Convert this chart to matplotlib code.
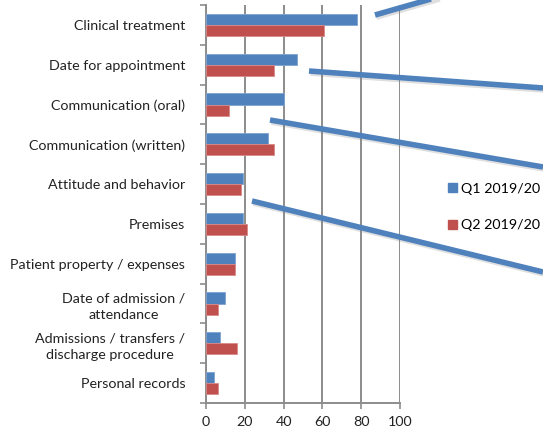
import matplotlib.pyplot as plt
import matplotlib.patheffects as pe
from matplotlib.lines import Line2D
from matplotlib.patches import Patch
import numpy as np

# Datos del gráfico
categorias = [
    "Clinical treatment",
    "Date for appointment",
    "Communication (oral)",
    "Communication (written)",
    "Attitude and behavior",
    "Premises",
    "Patient property / expenses",
    "Date of admission /\nattendance",
    "Admissions / transfers /\ndischarge procedure",
    "Personal records",
]
q1 = [78, 47, 40, 32, 19, 19, 15, 10, 7, 4]
q2 = [61, 35, 12, 35, 18, 21, 15, 6, 16, 6]
series = ["Q1 2019/20", "Q2 2019/20"]

azul = "#4F81BD"
rojo = "#C0504D"
gris = "#8C8C8C"
fs = 10.3

plt.rcParams['font.family'] = ['Lato', 'DejaVu Sans']

W, H = 543, 433
fig = plt.figure(figsize=(W / 100, H / 100), dpi=100)
ax = fig.add_axes([206 / W, 1 - 403 / H, 194 / W, 398 / H])

n = len(categorias)
y = np.arange(n)
alto = 0.28
ax.barh(y - alto / 2, q1, height=alto, color=azul, edgecolor="#7FA3D3", linewidth=0.6, zorder=3)
ax.barh(y + alto / 2, q2, height=alto, color=rojo, edgecolor="#D98A88", linewidth=0.6, zorder=3)

ax.set_ylim(n - 0.5, -0.5)
ax.set_xlim(0, 100)
ax.set_xticks(range(0, 101, 20))
ax.set_yticks(np.arange(-0.5, n, 1.0), minor=False)
ax.set_yticklabels([])
ax.set_yticks(y, minor=True)
ax.set_yticklabels(categorias, minor=True, fontsize=fs, color="#222222")
for lab in ax.get_yticklabels(minor=True):
    lab.set_multialignment("center")
    lab.set_linespacing(1.45)
ax.tick_params(axis="y", which="minor", length=0, pad=15)
ax.tick_params(axis="y", which="major", length=4, width=1.2, color=gris, direction="out")
ax.tick_params(axis="x", length=4, width=1.2, color=gris, labelsize=fs, labelcolor="#222222", pad=5)

ax.grid(axis="x", color=gris, linewidth=1.4, zorder=0)
for s in ["top", "right"]:
    ax.spines[s].set_visible(False)
for s in ["left", "bottom"]:
    ax.spines[s].set_color(gris)
    ax.spines[s].set_linewidth(1.4)

# Líneas decorativas (flechas de llamada)
trazos = [
    ((375, 15), (445, -5)),
    ((309, 71), (543, 88)),
    ((270, 120), (543, 167)),
    ((252, 201), (543, 272)),
]
for (x0, y0), (x1, y1) in trazos:
    ln = Line2D([x0 / W, x1 / W], [1 - y0 / H, 1 - y1 / H], transform=fig.transFigure,
                color=azul, linewidth=4, solid_capstyle="butt", zorder=10,
                path_effects=[pe.SimpleLineShadow(offset=(1, -1.5), shadow_color="gray", alpha=0.25),
                              pe.Normal()])
    fig.add_artist(ln)

# Leyenda
handles = [Patch(color=azul), Patch(color=rojo)]
fig.legend(handles, series, loc="upper left", bbox_to_anchor=(448 / W, 1 - 183 / H),
           frameon=False, fontsize=fs, handlelength=0.6, handleheight=0.6,
           handletextpad=0.3, labelspacing=1.7, borderaxespad=0, borderpad=0)

fig.savefig("out.png", dpi=100)
